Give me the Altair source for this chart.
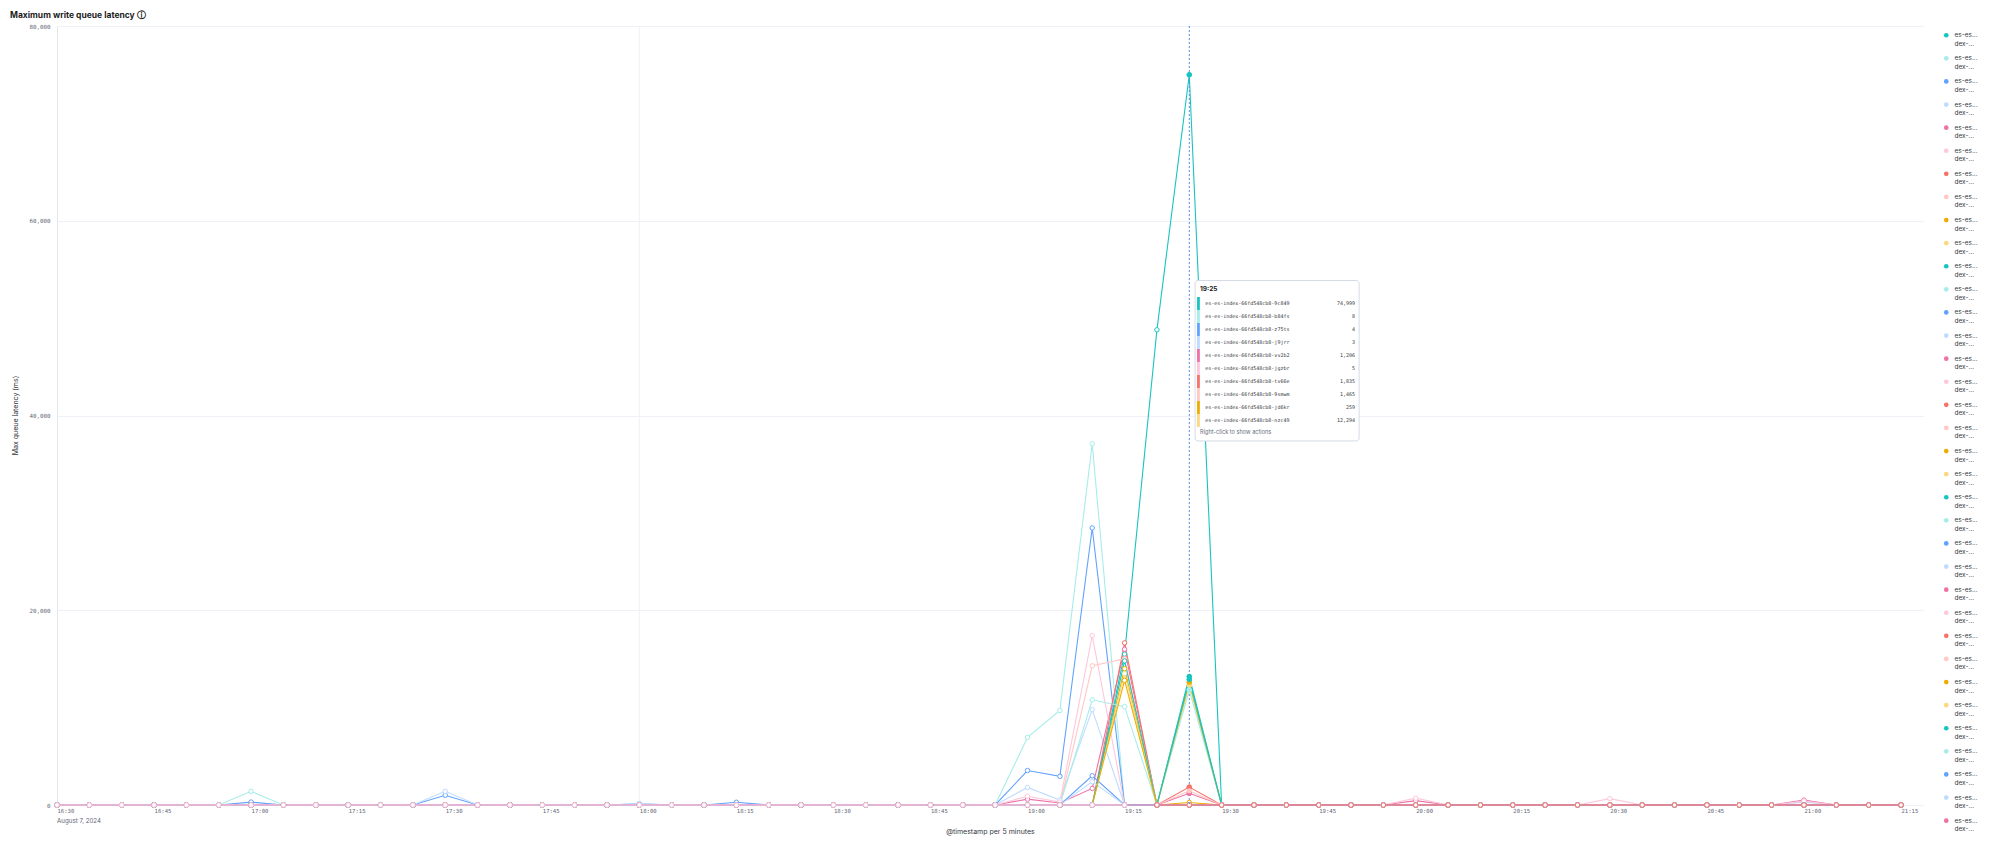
import altair as alt
import pandas as pd

# ---------------- text ----------------
TITLE = "Maximum write queue latency \u24d8"
Y_TITLE = "Max queue latency (ms)"
X_TITLE = "@timestamp per 5 minutes"
DATE_LABEL = "August 7, 2024"
TIP_HEADER = "19:25"
TIP_FOOTER = "Right-click to show actions"

# ---------------- categories ----------------
times = [t.strftime("%Y-%m-%dT%H:%M:%S")
         for t in pd.date_range("2024-08-07 16:30", "2024-08-07 21:15", freq="5min")]
tick_hm = [(16, 30), (16, 45), (17, 0), (17, 15), (17, 30), (17, 45), (18, 0), (18, 15),
           (18, 30), (18, 45), (19, 0), (19, 15), (19, 30), (19, 45), (20, 0), (20, 15),
           (20, 30), (20, 45), (21, 0), (21, 15)]
y_ticks = [0, 20000, 40000, 60000, 80000]

palette = ["#16C5C0", "#A6EDEA", "#61A2FF", "#BFDBFF", "#EE72A6",
           "#FFC7DB", "#F6726A", "#FFC9C2", "#EAAE01", "#FCD883"]

suffixes = ["9c849", "b84fs", "z75ts", "j9jrr", "vv2b2", "jgzbr", "tv66e", "9smwm", "jd6kr", "nzc49",
            "2xq7d", "8kplm", "fh4rt", "wq9zn", "m7c2x", "p5vbk", "t8njs", "4rlqh", "xd6wp", "c9mzt",
            "k2hfv", "r6sjd", "n4wxb", "g7tpl", "h3qzc", "v8mkd", "s5jrw", "b2nlx", "q9fct", "d7wph",
            "l4kzs", "z6xgm", "f8rbn", "j3vtd", "w5hqk"]
names = ["es-es-index-66fd548cb8-" + s for s in suffixes]
colors = [palette[i % len(palette)] for i in range(len(names))]

# ---------------- series values (non-zero points, ms) ----------------
s00 = {"19:15": 15500, "19:20": 48800, "19:25": 74999}
s01 = {"17:00": 1400, "19:00": 6950, "19:05": 9700, "19:10": 37100, "19:25": 8}
s02 = {"17:00": 300, "17:30": 1000, "18:00": 120, "18:15": 280,
       "19:00": 3540, "19:05": 2950, "19:10": 28450, "19:25": 4}
s03 = {"17:30": 1400, "18:00": 150, "19:00": 1800, "19:05": 500, "19:10": 9800, "19:25": 3}
s04 = {"19:00": 600, "19:05": 200, "19:10": 1700, "19:15": 16000, "19:25": 1206}
s05 = {"19:00": 900, "19:05": 300, "19:10": 17400, "19:25": 5}
s06 = {"19:15": 16650, "19:25": 1835}
s07 = {"19:10": 14300, "19:15": 15000, "19:25": 1465}
s08 = {"19:15": 14000, "19:25": 259}
s09 = {"19:15": 13500, "19:25": 12294}
s10 = {"19:15": 14800, "19:25": 13200}
s11 = {"19:10": 10800, "19:15": 10100, "19:25": 11800}
s12 = {"19:10": 3000}
s13 = {"19:10": 2400, "21:00": 300}
s14 = {"20:00": 450, "21:00": 500}
s15 = {"20:00": 700, "20:30": 650, "21:00": 400}
s18 = {"19:15": 12800, "19:25": 12600}
s20 = {"19:25": 12900}
nonzero = {0: s00, 1: s01, 2: s02, 3: s03, 4: s04, 5: s05, 6: s06, 7: s07, 8: s08,
           9: s09, 10: s10, 11: s11, 12: s12, 13: s13, 14: s14, 15: s15, 18: s18, 20: s20}

# time spans of series that do not cover the whole range
spans = {25: ("16:30", "19:15"), 26: ("19:20", "21:15")}
draw_last = [25, 26]

# tooltip rows
tip_names = names[:10]
tip_values = ["74,999", "8", "4", "3", "1,206", "5", "1,835", "1,465", "259", "12,294"]
tip_colors = colors[:10]

# ---------------- build table ----------------
order = [i for i in range(len(names)) if i not in draw_last] + draw_last
rows = []
for rank, i in enumerate(order):
    start, end = spans.get(i, ("16:30", "21:15"))
    for t in times:
        hm = t[11:16]
        if start <= hm <= end:
            rows.append({"series": names[i], "time": t,
                         "value": nonzero.get(i, {}).get(hm, 0), "rank": rank})
df = pd.DataFrame(rows)

def dt(h, m, s=0):
    return alt.DateTime(year=2024, month=8, date=7, hours=h, minutes=m, seconds=s)

x_scale = alt.Scale(domain=[dt(16, 30), dt(21, 18, 24)], nice=False)
y_scale = alt.Scale(domain=[0, 80000], nice=False)
stroke_scale = alt.Scale(domain=names, range=colors)

MONO = "DejaVu Sans Mono"
SANS = "Inter"
LABEL_C = "#5f6675"
GRID_C = "#eef1f5"

x_axis = alt.Axis(values=[dt(h, m) for h, m in tick_hm], format="%H:%M", grid=False,
                  ticks=False, domain=False, labelFont=MONO, labelFontSize=5.6,
                  labelColor=LABEL_C, labelAlign="left", labelBaseline="top",
                  labelPadding=3, labelFlush=False, labelOverlap=False, labelBound=False,
                  title=X_TITLE, titleFont=SANS, titleFontSize=7, titleFontWeight="normal",
                  titleColor="#343741", titleBaseline="middle", titleY=26)
y_axis = alt.Axis(values=y_ticks, format=",d", grid=True, gridColor=GRID_C, ticks=False,
                  domain=True, domainColor="#e3e7ee", labelFont=MONO, labelFontSize=5.8,
                  labelColor=LABEL_C, labelPadding=7, title=Y_TITLE, titleFont=SANS,
                  titleFontSize=7, titleFontWeight="normal", titleColor="#343741",
                  titleX=-42, titleY=389, titleAlign="center", titleBaseline="middle",
                  titleAngle=-90)

base = alt.Chart(df)
X = alt.X("time:T", scale=x_scale, axis=x_axis)
Y = alt.Y("value:Q", scale=y_scale, axis=y_axis)

# vertical grid line at 18:00 and crosshair at 19:25
vgrid = alt.Chart(pd.DataFrame({"time": ["2024-08-07T18:00:00"]})).mark_rule(
    color=GRID_C, strokeWidth=1).encode(x=alt.X("time:T", scale=x_scale))
cross = alt.Chart(pd.DataFrame({"time": ["2024-08-07T19:25:00"]})).mark_rule(
    color="#5b8ee0", strokeWidth=1, strokeDash=[2, 2]).encode(x=alt.X("time:T", scale=x_scale))

lines = base.mark_line(strokeWidth=1.1).encode(
    x=X, y=Y,
    stroke=alt.Stroke("series:N", scale=stroke_scale, legend=None),
    order=alt.Order("time:T"))

points = base.mark_point(shape="circle", size=20, strokeWidth=1, opacity=1).encode(
    x=alt.X("time:T", scale=x_scale), y=alt.Y("value:Q", scale=y_scale),
    stroke=alt.Stroke("series:N", scale=stroke_scale, legend=None),
    fill=alt.value("white"))

legend = alt.Legend(title=None, orient="none", legendX=1886, legendY=6,
                    direction="vertical", symbolType="circle", symbolSize=22,
                    symbolStrokeWidth=0, labelFont=SANS, labelFontSize=6.5,
                    labelColor="#343741",
                    labelExpr="[substring(datum.label,0,5)+'...', substring(datum.label,8,12)+'...']",
                    labelOffset=5, rowPadding=7.1, padding=0,
                    symbolLimit=0, labelLimit=60)

hover = base.transform_filter(
    "hours(datum.time) == 19 && minutes(datum.time) == 25 && datum.value > 1000"
).transform_calculate(pod="datum.series").mark_circle(size=26, opacity=1).encode(
    x=alt.X("time:T", scale=x_scale), y=alt.Y("value:Q", scale=y_scale),
    fill=alt.Fill("pod:N", scale=alt.Scale(domain=names, range=colors), legend=legend))

date_label = alt.Chart(pd.DataFrame({"time": [times[0]], "label": [DATE_LABEL]})).mark_text(
    align="left", baseline="middle", font=SANS, fontSize=6.2, color=LABEL_C, dx=0).encode(
    x=alt.X("time:T", scale=x_scale), y=alt.value(795), text="label:N")

# ---------------- tooltip overlay (data units) ----------------
tip_box = alt.Chart(pd.DataFrame({"x0": ["2024-08-07T19:25:54"], "x1": ["2024-08-07T19:51:15"],
                                  "y0": [53866], "y1": [37383]})).mark_rect(
    fill="white", stroke="#d3dae6", strokeWidth=1, cornerRadius=3).encode(
    x=alt.X("x0:T", scale=x_scale), x2="x1:T",
    y=alt.Y("y0:Q", scale=y_scale), y2="y1:Q")

tip_head = alt.Chart(pd.DataFrame({"x": ["2024-08-07T19:26:40"], "y": [52990],
                                   "t": [TIP_HEADER]})).mark_text(
    align="left", baseline="middle", font=SANS, fontSize=6.5, fontWeight="bold",
    color="#1a1c21").encode(x=alt.X("x:T", scale=x_scale), y=alt.Y("y:Q", scale=y_scale), text="t:N")

row_y = [51504 - 1335 * i for i in range(len(tip_names))]
tip_df = pd.DataFrame({"name": tip_names, "val": tip_values, "col": tip_colors, "y": row_y,
                       "y0": [v + 667 for v in row_y], "y1": [v - 667 for v in row_y],
                       "xn": "2024-08-07T19:27:27", "xv": "2024-08-07T19:50:37",
                       "xb0": "2024-08-07T19:26:12", "xb1": "2024-08-07T19:26:38"})
tip_bars = alt.Chart(tip_df).mark_rect().encode(
    x=alt.X("xb0:T", scale=x_scale), x2="xb1:T",
    y=alt.Y("y0:Q", scale=y_scale), y2="y1:Q", fill=alt.Fill("col:N", scale=None))
tip_names_txt = alt.Chart(tip_df).mark_text(
    align="left", baseline="middle", font=MONO, fontSize=5.0, color="#343741").encode(
    x=alt.X("xn:T", scale=x_scale), y=alt.Y("y:Q", scale=y_scale), text="name:N")
tip_vals_txt = alt.Chart(tip_df).mark_text(
    align="right", baseline="middle", font=MONO, fontSize=5.0, color="#343741").encode(
    x=alt.X("xv:T", scale=x_scale), y=alt.Y("y:Q", scale=y_scale), text="val:N")
tip_foot = alt.Chart(pd.DataFrame({"x": ["2024-08-07T19:26:40"], "y": [38307],
                                   "t": [TIP_FOOTER]})).mark_text(
    align="left", baseline="middle", font=SANS, fontSize=5.6, color="#69707d").encode(
    x=alt.X("x:T", scale=x_scale), y=alt.Y("y:Q", scale=y_scale), text="t:N")

chart = alt.layer(
    vgrid, lines, points, cross, hover, date_label,
    tip_box, tip_head, tip_bars, tip_names_txt, tip_vals_txt, tip_foot
).resolve_scale(fill="independent").properties(
    width=1866, height=779,
    title=alt.TitleParams(TITLE, anchor="start", frame="group", dx=-47, offset=4, font=SANS,
                          fontSize=8.5, fontWeight="bold", color="#1a1c21"),
    autosize=alt.AutoSizeParams(type="none"),
    padding={"left": 49, "top": 18, "right": 68, "bottom": 33},
    background="white"
).configure_view(stroke=None)

chart.save("out.html", embed_options={"renderer": "svg", "actions": False})
